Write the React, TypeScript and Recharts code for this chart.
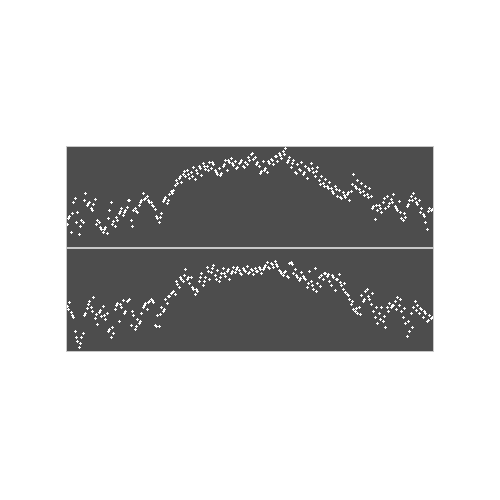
import React from "react";
import { ScatterChart, Scatter, XAxis, YAxis } from "recharts";

// top panel readings, every second day
const topEven = [
    22, 30, 14, 44, 48, 34, 12, 26, 24, 53, 41, 44, 38, 42, 47, 26, 24, 17, 14, 19,
    13, 36, 44, 25, 20, 26, 33, 38, 31, 36, 39, 46, 26, 36, 38, 34, 41, 46, 53, 48,
    50, 44, 44, 40, 37, 28, 24, 33, 45, 49, 43, 52, 55, 56, 61, 63, 68, 64, 72, 70,
    76, 68, 74, 79, 67, 73, 80, 71, 83, 77, 80, 84, 78, 82, 76, 72, 78, 73, 80, 86,
    76, 84, 88, 81, 85, 79, 83, 86, 80, 84, 82, 86, 92, 87, 89, 84, 80, 75, 85, 78,
    74, 83, 87, 82, 90, 85, 93, 88, 95, 98, 84, 89, 79, 86, 74, 82, 77, 84, 72, 80,
    68, 76, 83, 74, 70, 79, 66, 70, 63, 67, 60, 64, 58, 53, 60, 50, 56, 48, 54, 49,
    52, 46, 55, 72, 60, 66, 57, 63, 55, 60, 52, 58, 50, 40, 27, 36, 41, 34, 44, 38,
    50, 43, 47, 52, 40, 36, 45, 28, 26, 29, 40, 46, 50, 53, 48, 42, 46, 38, 32, 24,
    17, 38, 36,
];

// top panel extra readings, every fourth day starting at day 1
const topExtra = [
    28, 33, 24, 20, 46, 43, 36, 22, 19, 17, 28, 22, 29, 35, 34, 46, 20, 35, 44, 47,
    46, 41, 30, 29, 47, 46, 53, 66, 70, 75, 72, 70, 76, 78, 80, 76, 84, 74, 71, 82,
    86, 83, 78, 84, 79, 89, 93, 82, 73, 76, 85, 86, 90, 91, 92, 86, 83, 73, 76, 74,
    78, 78, 75, 62, 60, 58, 55, 57, 49, 51, 54, 62, 58, 54, 51, 49, 38, 41, 38, 48,
    40, 44, 38, 34, 33, 42, 46, 44, 34, 30, 35, 37,
];

// bottom panel readings, every second day
const bottomEven = [
    45, 49, 39, 34, 20, 10, 4, 14, 18, 38, 43, 50, 44, 54, 33, 27, 39, 35, 45, 32,
    38, 22, 14, 18, 42, 48, 30, 44, 51, 40, 50, 52, 26, 36, 22, 32, 28, 38, 44, 48,
    42, 50, 52, 49, 26, 36, 25, 44, 40, 52, 48, 55, 58, 60, 57, 67, 64, 72, 70, 82,
    72, 68, 74, 62, 57, 60, 70, 78, 66, 74, 84, 72, 79, 86, 76, 81, 70, 78, 83, 75,
    80, 72, 78, 84, 79, 84, 81, 77, 83, 80, 85, 79, 82, 77, 83, 80, 84, 78, 82, 86,
    89, 83, 88, 84, 90, 85, 81, 78, 76, 80, 75, 88, 89, 78, 82, 74, 71, 79, 75, 72,
    64, 80, 70, 62, 83, 68, 74, 76, 72, 78, 75, 70, 66, 74, 61, 72, 77, 66, 62, 59,
    57, 52, 47, 42, 40, 38, 44, 56, 50, 60, 62, 52, 47, 40, 34, 28, 38, 44, 30, 24,
    44, 48, 44, 46, 50, 54, 46, 40, 34, 28, 15, 20, 38, 44, 50, 46, 38, 42, 34, 38,
    30, 36, 33,
];

// bottom panel extra readings, every fourth day starting at day 1
const bottomExtra = [
    42, 36, 14, 8, 36, 47, 40, 37, 41, 36, 20, 24, 46, 47, 38, 51, 40, 25, 30, 46,
    49, 51, 25, 37, 42, 55, 59, 70, 74, 76, 74, 64, 62, 74, 70, 80, 83, 72, 74, 78,
    82, 80, 82, 78, 81, 78, 81, 80, 82, 84, 84, 87, 87, 80, 79, 74, 87, 76, 73, 73,
    68, 66, 60, 65, 78, 77, 76, 72, 69, 68, 56, 50, 43, 37, 52, 55, 58, 44, 32, 35,
    40, 46, 42, 52, 43, 30, 24, 41, 43, 40, 31, 34,
];

const toPoints = (even: number[], extra: number[]) => [
    ...even.map((v, i) => ({ day: i * 2, v })),
    ...extra.map((v, i) => ({ day: i * 4 + 1, v })),
];

const topData = toPoints(topEven, topExtra);
const bottomData = toPoints(bottomEven, bottomExtra);

const PlusDot = (props: any) => {
    const { cx, cy } = props;
    if (cx == null || cy == null) return null;
    const x = Math.round(cx);
    const y = Math.round(cy);
    return (
        <g fill="#ffffff">
            <rect x={x - 1} y={y} width={3} height={1} />
            <rect x={x} y={y - 1} width={1} height={3} />
        </g>
    );
};

const Panel = ({ data, height, domain }: { data: any[]; height: number; domain: number[] }) => (
    <div style={{ background: "#4d4d4d", height }}>
        <ScatterChart width={366} height={height} margin={{ top: 0, right: 0, bottom: 0, left: 0 }}>
            <XAxis type="number" dataKey="day" domain={[0, 366]} hide />
            <YAxis type="number" dataKey="v" domain={domain} hide />
            <Scatter data={data} shape={PlusDot} isAnimationActive={false} />
        </ScatterChart>
    </div>
);

export default function App() {
    return (
        <div
            style={{
                position: "absolute",
                left: 66,
                top: 146,
                width: 366,
                border: "1px solid #c8c8c8",
                background: "#c8c8c8",
            }}
        >
            <Panel data={topData} height={100} domain={[-1, 99]} />
            <div style={{ height: 2, background: "#c8c8c8" }} />
            <Panel data={bottomData} height={102} domain={[0, 102]} />
        </div>
    );
}
